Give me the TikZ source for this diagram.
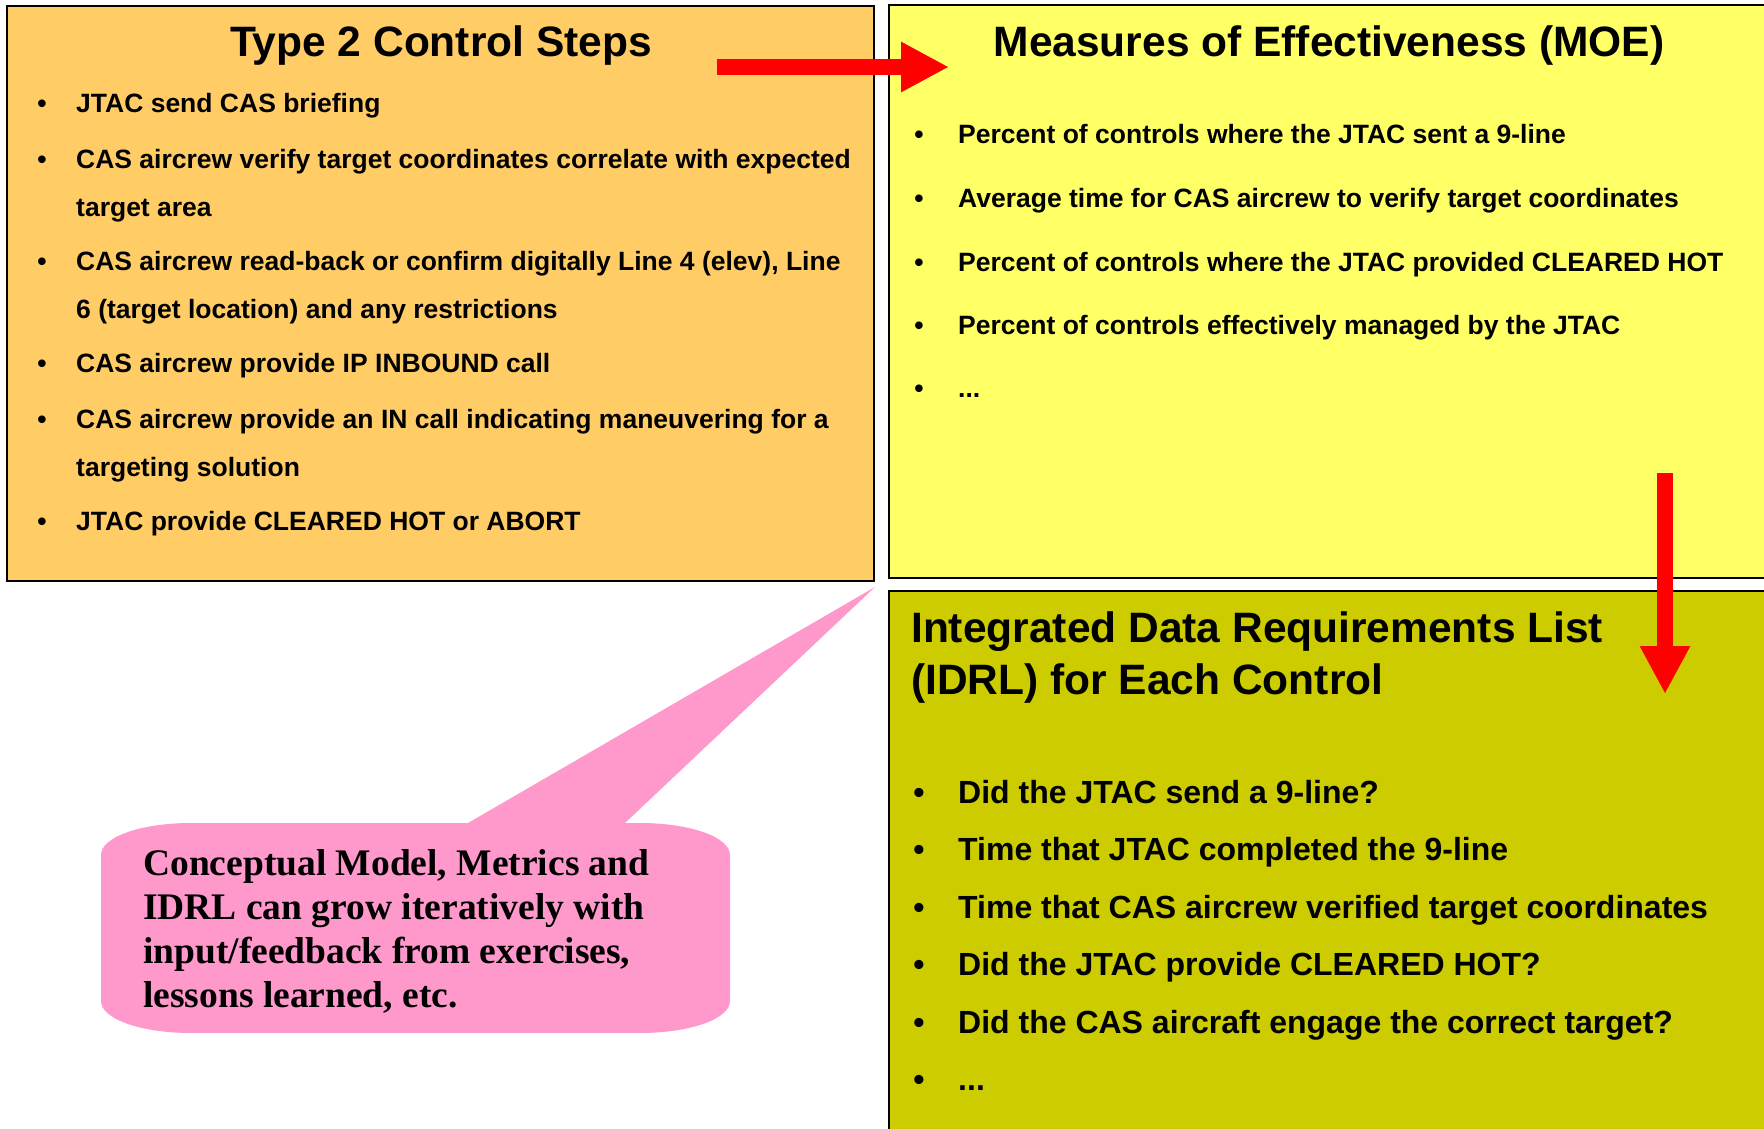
\documentclass[tikz,border=0pt]{standalone}
\usepackage{fontspec}
\setmainfont{Liberation Sans}
\newfontfamily\timesfont{Liberation Serif}
\usetikzlibrary{arrows.meta}
\definecolor{orangebox}{HTML}{FFCC66}
\definecolor{yellowbox}{HTML}{FFFF66}
\definecolor{olivebox}{HTML}{CCCC00}
\definecolor{pinknote}{HTML}{FF99CC}

\begin{document}
\begin{tikzpicture}[x=1pt, y=-1pt,
    box/.style={draw=black, line width=2.5pt},
    head/.style={anchor=base, inner sep=0pt, font=\bfseries\fontsize{42.5}{52}\selectfont},
    smalltxt/.style={inner sep=0pt, font=\bfseries\fontsize{26.5}{48}\selectfont},
    bigtxt/.style={inner sep=0pt, font=\bfseries\fontsize{32}{40}\selectfont},
    dot/.style={anchor=base},
    itm/.style={anchor=base west},
    redarrow/.style={draw=red, line width=16pt, -{Triangle[length=48pt, width=47pt]}}]
    \useasboundingbox (0,0) rectangle (1764,1129);
    \clip (0,0) rectangle (1764,1129);
    % the three boxes
    \filldraw[box, fill=orangebox] (7,6) rectangle (874,581);
    \filldraw[box, fill=yellowbox] (889,5) rectangle (1790,578);
    \filldraw[box, fill=olivebox] (889,591) rectangle (1790,1150);
    % titles
    \node[head] (steps) at (441,57) {Type 2 Control Steps};
    \node[head] (moe) at (1329,57) {Measures of Effectiveness (MOE)};
    \node[head, anchor=base west] (idrl) at (911,642)
        {\parbox[t]{760pt}{Integrated Data Requirements List\\(IDRL) for Each Control}};
    % control steps
    \foreach \yy/\txt [count=\i] in {113/{JTAC send CAS briefing},
        168/{CAS aircrew verify target coordinates correlate with expected\\target area},
        270/{CAS aircrew read-back or confirm digitally Line 4 (elev), Line\\6 (target location) and any restrictions},
        372/{CAS aircrew provide IP INBOUND call},
        428/{CAS aircrew provide an IN call indicating maneuvering for a\\targeting solution},
        530/{JTAC provide CLEARED HOT or ABORT}}
    {
        \node[smalltxt, dot] (sb\i) at (42,\yy) {\textbullet};
        \node[smalltxt, itm] (st\i) at (76,\yy) {\parbox[t]{790pt}{\txt}};
    }
    % measures
    \foreach \yy/\txt [count=\i] in {143/{Percent of controls where the JTAC sent a 9-line},
        207/{Average time for CAS aircrew to verify target coordinates},
        271/{Percent of controls where the JTAC provided CLEARED HOT},
        334/{Percent of controls effectively managed by the JTAC},
        397/{...}}
    {
        \node[smalltxt, dot] (mb\i) at (919,\yy) {\textbullet};
        \node[smalltxt, itm] (mt\i) at (958,\yy) {\txt};
    }
    % data requirements
    \foreach \yy/\txt [count=\i] in {803/{Did the JTAC send a 9-line?},
        860.5/{Time that JTAC completed the 9-line},
        918/{Time that CAS aircrew verified target coordinates},
        975.5/{Did the JTAC provide CLEARED HOT?},
        1033/{Did the CAS aircraft engage the correct target?},
        1090.5/{...}}
    {
        \node[bigtxt, dot] (db\i) at (919,\yy) {\textbullet};
        \node[bigtxt, itm] (dt\i) at (958,\yy) {\txt};
    }
    % red arrows
    \coordinate (a1) at (717,67);
    \coordinate (a2) at (949,67);
    \coordinate (b1) at (1665,473);
    \coordinate (b2) at (1665,694);
    \draw[redarrow] (a1) -- (a2);
    \draw[redarrow] (b1) -- (b2);
    % callout
    \coordinate (tip) at (875,587);
    \fill[pinknote] (191,823) -- (468,823) -- (tip) -- (625,823) -- (640,823)
        .. controls (690,823) and (730,837) .. (730,855) -- (730,1001)
        .. controls (730,1019) and (690,1033) .. (640,1033) -- (191,1033)
        .. controls (141,1033) and (101,1019) .. (101,1001) -- (101,855)
        .. controls (101,837) and (141,823) .. (191,823) -- cycle;
    \node[anchor=base west, inner sep=0pt, font=\timesfont\bfseries\fontsize{37.5}{44.3}\selectfont] (note) at (143,875)
        {\parbox[t]{570pt}{Conceptual Model, Metrics and\\IDRL can grow iteratively with\\input/feedback from exercises,\\lessons learned, etc.}};
\end{tikzpicture}
\end{document}
